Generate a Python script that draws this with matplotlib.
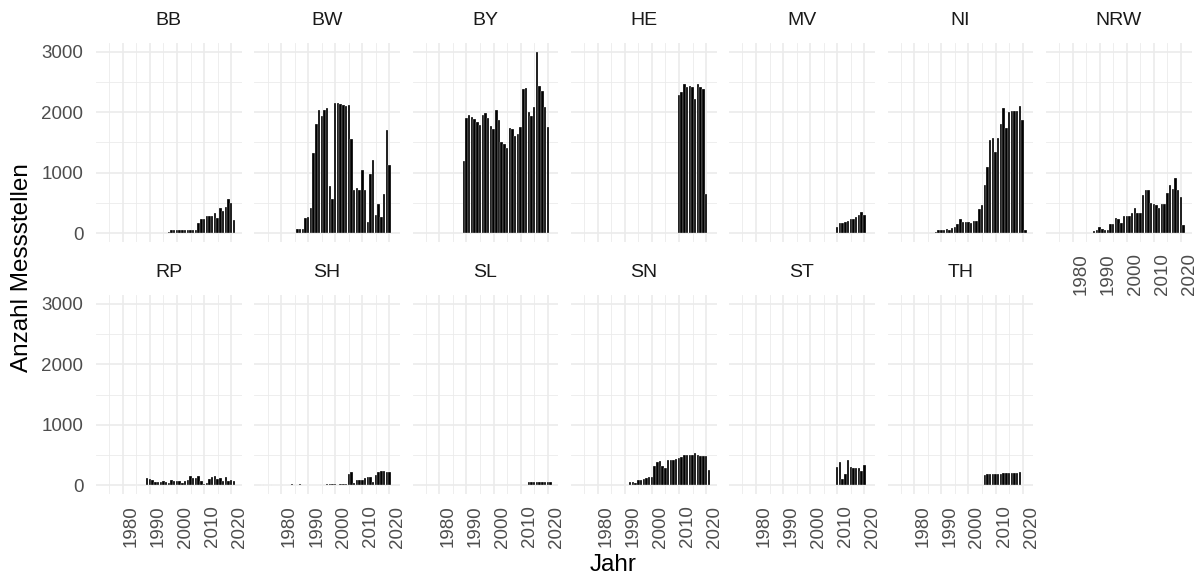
import matplotlib.pyplot as plt
import numpy as np

plt.rcParams['font.family'] = ['Liberation Sans', 'DejaVu Sans']

# Anzahl Messstellen je Bundesland und Jahr
bb_jahre = list(range(1997, 2022))
bb_werte = [25, 50, 55, 55, 55, 50, 55, 45, 45, 45, 55, 165, 232, 240, 290, 276, 276,
            331, 254, 414, 365, 431, 558, 497, 210]

bw_jahre = list(range(1986, 2021))
bw_werte = [65, 65, 70, 255, 275, 415, 1330, 1810, 2045, 1935, 2035, 2065, 775, 560,
            2145, 2145, 2140, 2120, 2110, 2120, 1565, 710, 750, 710, 1040, 710, 180,
            985, 1215, 305, 485, 275, 650, 1700, 1130]

by_jahre = list(range(1989, 2021))
by_werte = [1190, 1910, 1960, 1920, 1880, 1835, 1790, 1950, 1990, 1905, 1775, 1720,
            2045, 1870, 1500, 1480, 1410, 1740, 1730, 1600, 1635, 1755, 2390, 2405,
            2005, 1935, 2090, 3000, 2430, 2355, 2080, 1755]

he_jahre = list(range(2010, 2022))
he_werte = [2290, 2335, 2465, 2420, 2430, 2420, 2225, 2465, 2410, 2390, 650, 10]

mv_jahre = list(range(2010, 2021))
mv_werte = [100, 170, 170, 182, 193, 232, 238, 260, 293, 354, 298]

ni_jahre = list(range(1988, 2022))
ni_werte = [15, 45, 45, 45, 70, 45, 90, 105, 155, 240, 180, 180, 180, 175, 193, 193,
            400, 460, 800, 1095, 1535, 1575, 1340, 1575, 1800, 2075, 1745, 2005, 2015,
            2015, 2015, 2100, 1865, 55]

nrw_jahre = list(range(1987, 2022))
nrw_werte = [10, 28, 55, 100, 72, 60, 45, 155, 155, 255, 232, 165, 282, 282, 282, 330,
             420, 330, 330, 630, 707, 718, 497, 486, 470, 420, 486, 486, 657, 795, 735,
             917, 707, 602, 133]

rp_jahre = [1985] + list(range(1989, 2022))
rp_werte = [4, 127, 105, 94, 60, 55, 50, 72, 50, 40, 83, 77, 72, 66, 40, 66, 83, 160,
            121, 115, 150, 66, 22, 40, 105, 138, 160, 105, 127, 77, 138, 77, 83, 77]

sh_jahre = list(range(1973, 2021))
sh_werte = [3, 2, 5, 3, 8, 6, 8, 10, 8, 12, 10, 14, 12, 10, 14, 12, 10, 8, 10, 12, 10,
            8, 12, 10, 14, 18, 22, 20, 12, 15, 18, 25,
            193, 220, 40, 88, 88, 94, 120, 138, 138, 60, 176, 220, 231, 231, 225, 220]

sl_jahre = list(range(2013, 2022))
sl_werte = [48, 50, 50, 50, 48, 50, 50, 50, 48]

sn_jahre = list(range(1990, 2022))
sn_werte = [8, 10, 55, 55, 40, 83, 94, 105, 121, 132, 132, 325, 380, 396, 314, 292,
            413, 418, 424, 435, 457, 468, 495, 495, 500, 506, 528, 500, 490, 490, 490, 253]

st_jahre = list(range(2010, 2021))
st_werte = [303, 385, 110, 187, 413, 297, 286, 292, 281, 231, 330]

th_jahre = list(range(2006, 2020))
th_werte = [176, 180, 183, 186, 188, 190, 193, 196, 198, 200, 203, 206, 210, 215]

laender = ['BB', 'BW', 'BY', 'HE', 'MV', 'NI', 'NRW', 'RP', 'SH', 'SL', 'SN', 'ST', 'TH']
daten = [(bb_jahre, bb_werte), (bw_jahre, bw_werte), (by_jahre, by_werte),
         (he_jahre, he_werte), (mv_jahre, mv_werte), (ni_jahre, ni_werte),
         (nrw_jahre, nrw_werte), (rp_jahre, rp_werte), (sh_jahre, sh_werte),
         (sl_jahre, sl_werte), (sn_jahre, sn_werte), (st_jahre, st_werte),
         (th_jahre, th_werte)]

W, H = 1204, 580
fig = plt.figure(figsize=(W / 100, H / 100), dpi=100)

ncol = 7
links, breite, schritt = 96, 145.7, 158.3
oben = [42.7, 294.9]
hoehe = 199.5

# gemeinsame Achsenbereiche (ggplot-artige 5% Erweiterung)
alle_jahre = np.concatenate([d[0] for d in daten])
x0, x1 = alle_jahre.min() - 0.45, alle_jahre.max() + 0.45
xlim = (x0 - 0.05 * (x1 - x0), x1 + 0.05 * (x1 - x0))
ymax = max(max(d[1]) for d in daten)
ylim = (-0.05 * ymax, 1.05 * ymax)

grau_text = '#4D4D4D'
for i, (land, (jahre, werte)) in enumerate(zip(laender, daten)):
    r, c = divmod(i, ncol)
    ax = fig.add_axes([(links + c * schritt) / W, 1 - (oben[r] + hoehe) / H,
                       breite / W, hoehe / H])
    ax.set_xlim(xlim)
    ax.set_ylim(ylim)
    ax.set_xticks(range(1980, 2021, 10))
    ax.set_xticks(range(1975, 2021, 10), minor=True)
    ax.set_yticks(range(0, 3001, 1000))
    ax.set_yticks(range(500, 3000, 1000), minor=True)
    ax.grid(True, which='major', color='#EBEBEB', linewidth=1.2)
    ax.grid(True, which='minor', color='#EBEBEB', linewidth=0.6)
    ax.set_axisbelow(True)
    for s in ax.spines.values():
        s.set_visible(False)
    ax.tick_params(which='both', length=0)
    ax.bar(jahre, werte, width=0.9, color='black', edgecolor='white', linewidth=0.2)
    ax.set_title(land, fontsize=14, color='#1A1A1A', pad=13)

    if c == 0:
        ax.tick_params(axis='y', labelsize=13.5, labelcolor=grau_text, pad=9)
    else:
        ax.tick_params(axis='y', labelleft=False)
    unten = r == 1 or i + ncol >= len(laender)
    if unten:
        ax.tick_params(axis='x', labelsize=13.5, labelcolor=grau_text, pad=8)
        for lab in ax.get_xticklabels():
            lab.set_rotation(90)
            lab.set_ha('left')
            lab.set_va('top')
    else:
        ax.tick_params(axis='x', labelbottom=False)

fig.text(613 / W, 1 - 565 / H, 'Jahr', fontsize=17.5, ha='center', va='center')
fig.text(22 / W, 1 - 268 / H, 'Anzahl Messstellen', fontsize=17.5, rotation=90,
         ha='center', va='center')

fig.savefig('out.png', dpi=100, facecolor='white')
